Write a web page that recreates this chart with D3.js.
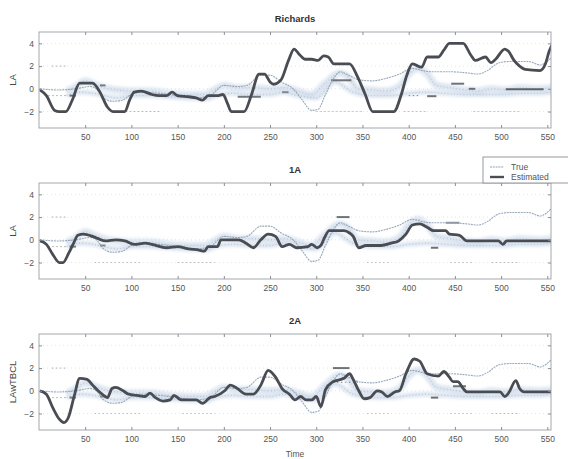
<!DOCTYPE html>
<html>
<head>
<meta charset="utf-8">
<script src="https://cdn.jsdelivr.net/npm/d3@7/dist/d3.min.js"></script>
<style>
  body { margin: 0; background: #fff; }
  svg { display: block; }
  text { font-family: "Liberation Sans", Arial, Helvetica, sans-serif; }
</style>
</head>
<body>
<svg id="chart" width="568" height="459"></svg>
<script>
// ---- data ----
const timeTicks = [50, 100, 150, 200, 250, 300, 350, 400, 450, 500, 550];
const valueTicks = [-2, 0, 2, 4];
const panelTitles = ["Richards", "1A", "2A"];
const panelYLabels = ["LA", "LA", "LAwTBCL"];
const legendLabels = ["True", "Estimated"];

// true lane-change signal, shared by all three panels
const trueSeries = [
  [1, 0], [20, -0.1], [40, 0], [55, 0.2], [62, 0], [70, -0.8], [80, -1.1], [90, -1.0],
  [100, -0.5], [110, -0.3], [130, -0.4], [150, -0.6], [170, -0.8], [185, -0.6], [200, 0.3],
  [215, 0.2], [225, 0.3], [240, 1.2], [250, 1.2], [262, 0.6], [275, 0], [285, -1.0],
  [295, -1.9], [302, -1.8], [310, -0.5], [318, 0.8], [326, 1.5], [335, 1.2], [346, 0.8],
  [360, 0.7], [375, 0.9], [390, 1.3], [404, 1.8], [415, 1.6], [425, 1.5], [445, 1.5],
  [463, 1.4], [475, 1.3], [485, 1.6], [498, 2.3], [510, 2.4], [530, 2.4], [542, 2.1], [555, 2.8]
];

const estimatedRichards = [
  [1, -0.1], [8, -0.6], [17, -1.9], [22, -2], [29, -2], [36, -1], [44, 0.5], [58, 0.5],
  [66, -0.3], [74, -1.6], [80, -2], [93, -2], [98, -1], [103, -0.3], [111, -0.2], [122, -0.5],
  [130, -0.6], [138, -0.6], [144, -0.3], [150, -0.6], [162, -0.7], [170, -0.8], [177, -1.0],
  [183, -0.6], [193, -0.6], [199, -0.5], [204, -1.3], [208, -2], [222, -2], [230, -0.5],
  [238, 1.3], [244, 1.3], [250, 0.6], [254, 0.4], [262, 0.8], [270, 2.5], [276, 3.5],
  [282, 3.0], [288, 2.6], [295, 2.6], [302, 2.5], [308, 2.9], [313, 2.8], [319, 2.2],
  [336, 2.2], [345, 1.0], [353, -0.5], [361, -2], [384, -2], [392, -0.5], [398, 1.2],
  [404, 2.2], [410, 2.0], [414, 1.9], [420, 2.8], [432, 2.8], [438, 3.4], [444, 4.0],
  [459, 4.0], [467, 3.0], [472, 2.5], [483, 2.8], [489, 2.3], [494, 2.6], [504, 3.5],
  [508, 3.3], [514, 2.5], [520, 2.0], [526, 1.7], [542, 1.6], [548, 2.2], [552, 3.3], [556, 4.0]
];

const estimated1A = [
  [1, -0.1], [8, -0.4], [15, -1.3], [22, -2.0], [26, -2.0], [32, -1.2], [38, -0.2], [42, 0.4],
  [48, 0.5], [58, 0.3], [64, 0.1], [72, -0.1], [83, 0], [93, -0.1], [103, -0.4], [115, -0.3],
  [122, -0.4], [138, -0.7], [150, -0.6], [162, -0.8], [173, -0.9], [179, -1.0], [183, -0.6],
  [193, -0.6], [197, 0], [216, 0], [224, -0.3], [232, -0.7], [240, 0], [248, 0.5], [256, 0.3],
  [263, -0.6], [271, -0.4], [279, -0.7], [291, -0.6], [295, -0.4], [301, -0.7], [305, -0.5],
  [309, 0.2], [314, 0.8], [330, 0.8], [336, 0.6], [340, 0.3], [346, -0.7], [354, -0.5],
  [370, -0.5], [381, -0.3], [389, -0.1], [397, 0.5], [404, 1.3], [412, 1.4], [420, 1.1],
  [427, 0.8], [440, 0.8], [444, 0.5], [455, 0.4], [463, -0.1], [497, -0.1], [502, -0.4],
  [506, -0.1], [556, -0.1]
];

const estimated2A = [
  [1, 0], [8, -0.3], [15, -1.5], [22, -2.5], [27, -2.8], [32, -2.3], [38, -0.5], [44, 1.1],
  [52, 1.0], [58, 0.5], [64, 0], [70, -0.4], [74, -0.6], [79, 0.2], [83, 0.3], [91, 0],
  [97, -0.3], [106, -0.4], [115, -0.5], [120, -0.2], [126, -0.6], [134, -0.9], [142, -0.8],
  [146, -0.4], [154, -0.8], [170, -0.8], [177, -1.1], [185, -0.6], [190, -0.5], [201, 0],
  [207, 0.5], [213, 0.3], [224, -0.3], [232, -0.3], [240, 0.5], [248, 1.8], [256, 1.2],
  [263, 0.2], [271, -0.3], [277, -0.8], [283, -0.5], [289, -0.8], [295, -0.8], [300, -0.5],
  [305, -1.4], [310, 0.1], [318, 0.8], [330, 1.1], [336, 1.5], [340, 1.0], [346, 0],
  [352, -0.7], [358, -0.6], [366, 0], [371, -0.1], [377, -0.5], [385, -0.1], [390, 0],
  [397, 1.5], [406, 2.8], [412, 2.6], [420, 1.5], [432, 1.3], [438, 1.7], [444, 1.2],
  [448, 0.8], [453, 0.8], [459, 0.2], [463, -0.1], [499, -0.1], [504, -0.5], [508, -0.2],
  [516, 0.9], [520, 0.2], [525, -0.1], [556, -0.1]
];

// raw lane observations (light scattered band) shared by the panels
const observationUpper = [
  [30, -0.2], [40, 0.2], [50, 0.7], [60, 0.4], [70, 0.1], [85, -0.1], [100, -0.2], [120, -0.2],
  [140, -0.4], [160, -0.5], [180, -0.5], [190, -0.1], [200, 0.3], [215, 0.1], [230, 0.1],
  [250, 0], [265, 0.1], [280, -0.2], [295, -0.5], [310, 0.5], [325, 1.4], [335, 1.0],
  [345, 0], [360, -0.1], [375, -0.2], [390, 0.2], [400, 1.3], [410, 1.8], [420, 1.3],
  [430, 0.3], [445, 0.1], [460, -0.1], [475, -0.2], [490, 0], [505, -0.1], [520, 0.1],
  [540, 0], [555, 0.1]
];
const observationLower = [
  [30, -0.6], [45, -0.3], [60, -0.4], [70, -0.6], [85, -0.8], [100, -0.6], [120, -0.6],
  [140, -0.7], [160, -0.8], [180, -0.9], [195, -0.5], [210, -0.4], [230, -0.5], [250, -0.5],
  [265, -0.3], [280, -0.6], [300, -0.8], [320, 0.6], [340, -0.3], [360, -0.6], [380, -0.6],
  [400, -0.4], [420, -0.3], [440, -0.4], [460, -0.5], [480, -0.5], [500, -0.5], [520, -0.4],
  [540, -0.4], [555, -0.3]
];

// short constant-offset detections: [start, end, value, darkness]
const segmentsRichards = [
  [14, 30, 2, 0.25], [85, 130, -2, 0.2], [300, 350, -2, 0.15], [395, 420, -2, 0.15],
  [470, 520, -2, 0.15], [33, 40, -0.6, 0.8], [66, 72, 0.3, 0.7], [215, 240, -0.7, 0.75],
  [263, 270, -0.3, 0.6], [316, 338, 0.75, 0.8], [420, 430, -0.65, 0.8], [446, 460, 0.45, 0.8],
  [465, 472, 0, 0.8], [505, 546, -0.05, 0.9], [400, 412, -0.6, 0.5], [10, 30, -0.6, 0.3]
];
const segments1A = [
  [14, 30, 2, 0.25], [60, 110, -2, 0.15], [150, 190, -2, 0.15], [355, 380, -2, 0.15],
  [445, 470, -2, 0.15], [490, 520, -2, 0.15], [322, 336, 2.0, 0.8], [424, 432, -0.7, 0.8],
  [440, 455, 1.5, 0.55], [33, 40, -0.6, 0.7], [66, 72, -0.5, 0.6], [10, 30, -0.6, 0.3]
];
const segments2A = [
  [14, 30, 2, 0.25], [60, 110, -2, 0.15], [155, 190, -2, 0.15], [355, 380, -2, 0.15],
  [445, 470, -2, 0.15], [490, 520, -2, 0.15], [318, 336, 2.0, 0.8], [318, 345, 0.75, 0.5],
  [424, 432, -0.6, 0.8], [448, 462, 0.4, 0.8], [33, 40, -0.6, 0.7], [66, 72, -0.5, 0.6],
  [10, 30, -0.6, 0.3]
];

const panels = [
  { title: panelTitles[0], ylabel: panelYLabels[0], est: estimatedRichards, seg: segmentsRichards },
  { title: panelTitles[1], ylabel: panelYLabels[1], est: estimated1A, seg: segments1A },
  { title: panelTitles[2], ylabel: panelYLabels[2], est: estimated2A, seg: segments2A }
];

// ---- layout ----
const svg = d3.select("#chart");
const plotLeft = 39, plotRight = 551, plotHeight = 96;
const panelTops = [32, 183, 334];

const x = d3.scaleLinear().domain([0, 554]).range([plotLeft, plotRight]);

const defs = svg.append("defs");
defs.append("filter").attr("id", "soft")
  .append("feGaussianBlur").attr("stdDeviation", 0.55);
defs.append("filter").attr("id", "haze").attr("x", "-5%").attr("y", "-50%")
  .attr("width", "110%").attr("height", "200%")
  .append("feGaussianBlur").attr("stdDeviation", 1.6);

panels.forEach((p, i) => {
  const top = panelTops[i];
  const y = d3.scaleLinear().domain([-3.45, 5]).range([top + plotHeight, top]);
  const g = svg.append("g");

  defs.append("clipPath").attr("id", "clip" + i)
    .append("rect").attr("x", plotLeft).attr("y", top)
    .attr("width", plotRight - plotLeft).attr("height", plotHeight);

  // faint dotted grid at value ticks
  g.append("g").selectAll("line").data(valueTicks).join("line")
    .attr("x1", plotLeft).attr("x2", plotRight)
    .attr("y1", d => y(d)).attr("y2", d => y(d))
    .attr("stroke", "#dde0e5").attr("stroke-width", 0.8)
    .attr("stroke-dasharray", "1 3");

  const body = g.append("g").attr("clip-path", `url(#clip${i})`);
  const line = d3.line().x(d => x(d[0])).y(d => y(d[1])).curve(d3.curveMonotoneX);

  // scattered observation bands: soft haze plus a sparse dotted core
  [observationUpper, observationLower].forEach((obs, k) => {
    body.append("path").datum(obs).attr("d", line)
      .attr("fill", "none").attr("stroke", "#c2d1e4")
      .attr("stroke-width", k === 0 ? 7 : 5)
      .attr("opacity", 0.55).attr("filter", "url(#haze)");
    body.append("path").datum(obs).attr("d", line)
      .attr("fill", "none").attr("stroke", "#a4b6cd")
      .attr("stroke-width", 1.3).attr("stroke-dasharray", "1 2.2")
      .attr("opacity", 0.55);
  });

  // constant-offset detections
  body.append("g").selectAll("line").data(p.seg).join("line")
    .attr("x1", d => x(d[0])).attr("x2", d => x(d[1]))
    .attr("y1", d => y(d[2])).attr("y2", d => y(d[2]))
    .attr("stroke", d => d3.interpolateRgb("#cfd3d9", "#3a3d42")(d[3]))
    .attr("stroke-width", d => d[3] > 0.5 ? 2 : 1)
    .attr("stroke-dasharray", d => d[3] > 0.5 ? null : "1.5 2.5")
    .attr("opacity", d => d[3] > 0.5 ? 0.85 : 1);

  // true signal
  body.append("path").datum(trueSeries).attr("d", line)
    .attr("fill", "none").attr("stroke", "#8fa0b4")
    .attr("stroke-width", 1.1).attr("stroke-dasharray", "2 0.8")
    .attr("opacity", 0.9);

  // estimated signal
  body.append("path").datum(p.est).attr("d", line)
    .attr("fill", "none").attr("stroke", "#4a4d52")
    .attr("stroke-width", 2.8).attr("stroke-linejoin", "round")
    .attr("filter", "url(#soft)");

  // frame
  g.append("rect").attr("x", plotLeft).attr("y", top)
    .attr("width", plotRight - plotLeft).attr("height", plotHeight)
    .attr("fill", "none").attr("stroke", "#9a9ea4").attr("stroke-width", 0.9);

  // axes (ticks point inward)
  const styleAxis = a => {
    a.select(".domain").remove();
    a.selectAll(".tick line").attr("stroke", "#8a8e94");
    a.selectAll(".tick text").attr("fill", "#555").attr("font-size", 8.5);
  };
  g.append("g").attr("transform", `translate(0,${top + plotHeight})`)
    .call(d3.axisBottom(x).tickValues(timeTicks).tickSize(-3).tickPadding(6))
    .call(styleAxis);
  g.append("g").attr("transform", `translate(0,${top})`)
    .call(d3.axisTop(x).tickValues(timeTicks).tickSize(-3).tickFormat(""))
    .call(styleAxis);
  g.append("g").attr("transform", `translate(${plotLeft},0)`)
    .call(d3.axisLeft(y).tickValues(valueTicks).tickSize(-3).tickPadding(5))
    .call(styleAxis);
  g.append("g").attr("transform", `translate(${plotRight},0)`)
    .call(d3.axisRight(y).tickValues(valueTicks).tickSize(-3).tickFormat(""))
    .call(styleAxis);

  // title and y label
  g.append("text").attr("x", (plotLeft + plotRight) / 2).attr("y", top - 10.5)
    .attr("text-anchor", "middle").attr("font-size", 9.5).attr("font-weight", "bold")
    .attr("fill", "#333").text(p.title);
  g.append("text")
    .attr("transform", `translate(16,${top + plotHeight / 2}) rotate(-90)`)
    .attr("text-anchor", "middle").attr("font-size", 9.5).attr("fill", "#444")
    .text(p.ylabel);
});

// x label
svg.append("text").attr("x", (plotLeft + plotRight) / 2).attr("y", 457)
  .attr("text-anchor", "middle").attr("font-size", 8.5).attr("fill", "#555").text("Time");

// legend
const lg = svg.append("g");
lg.append("rect").attr("x", 483).attr("y", 157).attr("width", 100).attr("height", 26)
  .attr("fill", "#fff").attr("stroke", "#8a8e94").attr("stroke-width", 0.9);
lg.append("line").attr("x1", 490).attr("x2", 504).attr("y1", 167).attr("y2", 167)
  .attr("stroke", "#8fa0b4").attr("stroke-width", 1.1).attr("stroke-dasharray", "2 0.8");
lg.append("line").attr("x1", 490).attr("x2", 504).attr("y1", 177).attr("y2", 177)
  .attr("stroke", "#4a4d52").attr("stroke-width", 2.4);
lg.selectAll("text.lab").data(legendLabels).join("text")
  .attr("x", 511).attr("y", (d, i) => 170 + i * 10)
  .attr("font-size", 8.5).attr("fill", "#555").text(d => d);
</script>
</body>
</html>
